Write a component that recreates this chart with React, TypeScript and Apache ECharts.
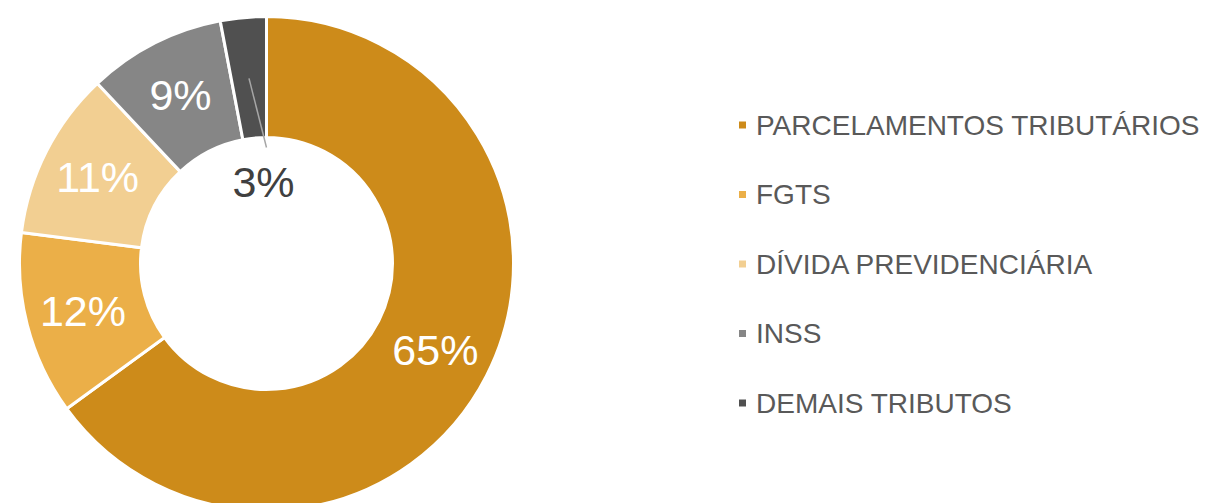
import React, { useEffect, useRef } from "react";
import * as echarts from "echarts";

const categories = [
  "PARCELAMENTOS TRIBUTÁRIOS",
  "FGTS",
  "DÍVIDA PREVIDENCIÁRIA",
  "INSS",
  "DEMAIS TRIBUTOS",
];
const values = [65, 12, 11, 9, 3];
const colors = ["#CD8B1A", "#EBAF48", "#F2CF92", "#868686", "#505050"];

const CX = 266.5;
const CY = 263.5;
const R_IN = 126;
const R_OUT = 247;

export default function App() {
  const ref = useRef<HTMLDivElement>(null);
  useEffect(() => {
    if (!ref.current) return;
    const chart = echarts.init(ref.current, null, { renderer: "svg" });
    const total = values.reduce((a, b) => a + b, 0);
    const lastIdx = values.length - 1;
    let before = 0;
    for (let i = 0; i < lastIdx; i++) before += values[i];
    const midFrac = (before + values[lastIdx] / 2) / total;
    const ang = Math.PI / 2 - midFrac * 2 * Math.PI;
    const rMid = (R_IN + R_OUT) / 2 - 0.5;
    const sx = CX + rMid * Math.cos(ang);
    const sy = CY - rMid * Math.sin(ang);
    const lx = CX - 3;
    const ly = CY - 82;

    chart.setOption({
      animation: false,
      backgroundColor: "#ffffff",
      legend: {
        orient: "vertical",
        left: 732,
        top: 106,
        icon: "rect",
        itemWidth: 9,
        itemHeight: 9,
        itemGap: 41.5,
        textStyle: {
          color: "#595959",
          fontSize: 28,
          fontFamily: "Liberation Sans, Arial, sans-serif",
          padding: [0, 0, 0, 4],
        },
        data: categories,
      },
      graphic: [
        {
          type: "line",
          z: 100,
          shape: { x1: sx, y1: sy, x2: lx + 3, y2: ly - 34 },
          style: { stroke: "#A6A6A6", lineWidth: 1.5 },
        },
      ],
      series: [
        {
          type: "pie",
          center: [CX, CY],
          radius: [R_IN, R_OUT],
          startAngle: 90,
          clockwise: true,
          itemStyle: { borderColor: "#ffffff", borderWidth: 3 },
          label: {
            show: true,
            position: "inside",
            formatter: "{d}%",
            color: "#ffffff",
            fontSize: 43,
            fontFamily: "Liberation Sans, Arial, sans-serif",
          },
          labelLine: { show: false },
          labelLayout: (params: any) => {
            if (params.dataIndex !== lastIdx) return {};
            return {
              x: lx,
              y: ly,
              align: "center",
              verticalAlign: "middle",
            };
          },
          data: categories.map((name, i) => {
            const item: any = {
              name,
              value: values[i],
              itemStyle: { color: colors[i] },
            };
            if (i === lastIdx) {
              item.label = {
                position: "outside",
                color: "#404040",
              };
              item.labelLine = { show: false };
            }
            return item;
          }),
        },
      ],
    });
    return () => chart.dispose();
  }, []);
  return (
    <div
      ref={ref}
      style={{ width: 1207, height: 503, position: "absolute", left: 0, top: 0 }}
    />
  );
}
